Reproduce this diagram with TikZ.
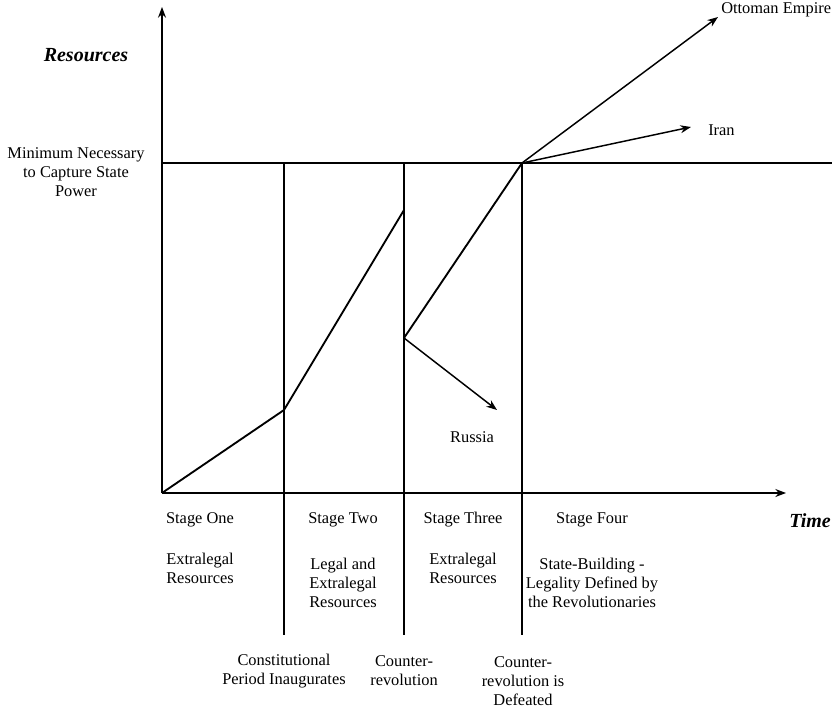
\documentclass[tikz,border=0pt]{standalone}
\usepackage{fontspec}
\setmainfont{LiberationSerif}[Extension=.ttf,UprightFont=*-Regular,BoldFont=*-Bold,ItalicFont=*-Italic,BoldItalicFont=*-BoldItalic]
\usetikzlibrary{arrows.meta}
\begin{document}
\begin{tikzpicture}[x=0.75pt,y=-0.75pt,
  ln/.style={line width=1.1pt},
  arr/.style={ln,-{Stealth[length=8pt,width=6pt]}},
  lbl/.style={font=\fontsize{12.3}{14.3}\selectfont,align=center,inner sep=0pt},
  axl/.style={font=\fontsize{15}{17}\selectfont\bfseries\itshape,inner sep=0pt}]
\useasboundingbox (0,0) rectangle (840,710);
% coordinates
\coordinate (O) at (162,493);
\coordinate (ytop) at (162,7);
\coordinate (xend) at (786,493);
\coordinate (h0) at (162,163);
\coordinate (hend) at (832,163);
\coordinate (v1t) at (284,163);
\coordinate (v1b) at (284,635);
\coordinate (v2t) at (404,163);
\coordinate (v2b) at (404,635);
\coordinate (v3t) at (522,163);
\coordinate (v3b) at (522,635);
\coordinate (p1) at (284,410);
\coordinate (p2) at (404,210);
\coordinate (p3) at (404,338);
\coordinate (ru) at (497,410);
\coordinate (ot) at (718,17);
\coordinate (ir) at (691,127);
% axes
\draw[arr] (O) -- (ytop);
\draw[arr] (O) -- (xend);
\draw[ln] (h0) -- (hend);
\draw[ln] (v1t) -- (v1b);
\draw[ln] (v2t) -- (v2b);
\draw[ln] (v3t) -- (v3b);
% curve
\draw[ln,line width=1.4pt,line join=miter] (O) -- (p1) -- (p2) -- (p3) -- (v3t);
\draw[arr] (p3) -- (ru);
\draw[arr] (v3t) -- (ot);
\draw[arr] (v3t) -- (ir);
% labels
\node[axl] (res) at (86,55) {Resources};
\node[axl] (time) at (810,521) {Time};
\node[lbl] (min) at (76,172) {Minimum Necessary\\to Capture State\\Power};
\node[lbl,anchor=west] (otl) at (721,10) {Ottoman Empire};
\node[lbl,anchor=west] (irl) at (708,130) {Iran};
\node[lbl] (rul) at (472,437) {Russia};
\node[lbl] (s1) at (200,520) {Stage One};
\node[lbl] (s2) at (343,520) {Stage Two};
\node[lbl] (s3) at (463,520) {Stage Three};
\node[lbl] (s4) at (592,520) {Stage Four};
\node[lbl] (d1) at (200,568) {Extralegal\\Resources};
\node[lbl] (d2) at (343,583) {Legal and\\Extralegal\\Resources};
\node[lbl] (d3) at (463,568) {Extralegal\\Resources};
\node[lbl] (d4) at (592,583) {State-Building -\\Legality Defined by\\the Revolutionaries};
\node[lbl] (b1) at (284,671) {Constitutional\\Period Inaugurates};
\node[lbl] (b2) at (404,671) {Counter-\\revolution};
\node[lbl] (b3) at (523,681) {Counter-\\revolution is\\Defeated};
\end{tikzpicture}
\end{document}
